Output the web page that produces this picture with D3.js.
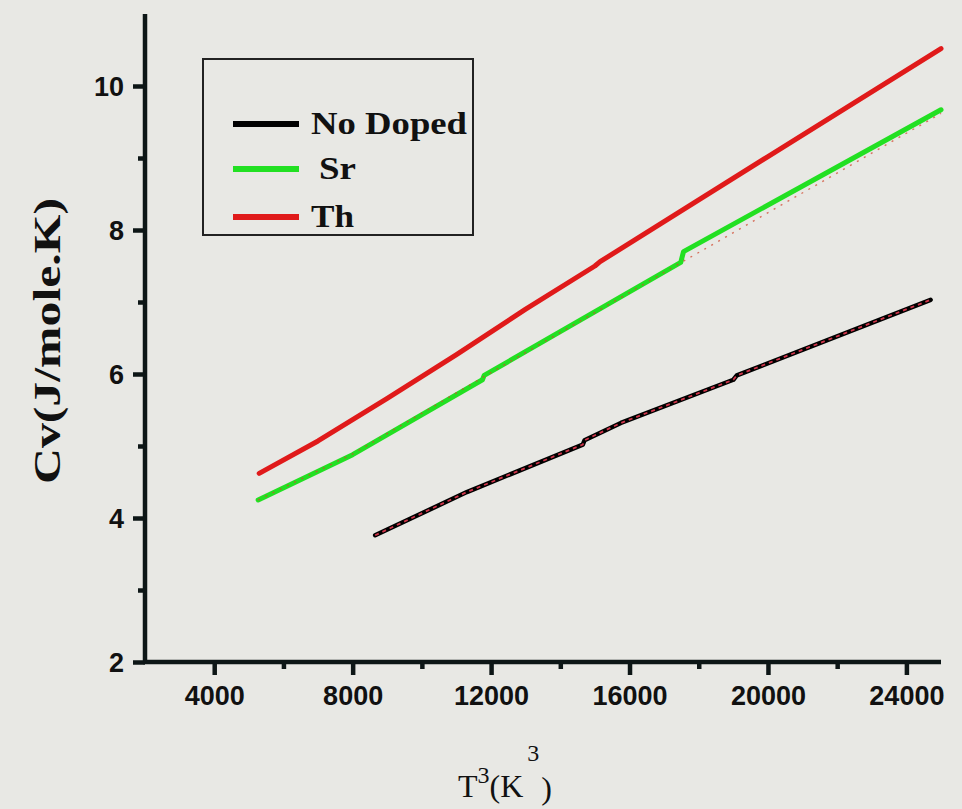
<!DOCTYPE html>
<html>
<head>
<meta charset="utf-8">
<script src="https://cdn.jsdelivr.net/npm/d3@7"></script>
<style>
  html, body { margin: 0; padding: 0; background: #e8e8e4; }
  svg { display: block; }
</style>
</head>
<body>
<svg id="chart" width="962" height="809"></svg>
<script>
// ---- data ----
const xTicks = [4000, 8000, 12000, 16000, 20000, 24000];
const xMinorTicks = [6000, 10000, 14000, 18000, 22000];
const yTicks = [2, 4, 6, 8, 10];
const yMinorTicks = [3, 5, 7, 9];

const seriesNames = ["No Doped", "Sr", "Th"];
const seriesColors = ["#000000", "#22e022", "#e01a1a"];

const noDopedT3 = [8650, 11300, 14650, 14700, 15750, 19000, 19100, 24700];
const noDopedCv = [3.76, 4.36, 5.02, 5.08, 5.32, 5.92, 5.98, 7.03];

const srT3 = [5270, 8000, 11750, 11800, 17480, 17560, 25000];
const srCv = [4.25, 4.88, 5.92, 5.98, 7.55, 7.70, 9.67];

const thT3 = [5300, 7000, 9000, 11000, 13000, 15000, 15150, 20000, 25000];
const thCv = [4.62, 5.07, 5.66, 6.27, 6.90, 7.50, 7.56, 9.02, 10.52];

// fitted curve drawn dotted along the Sr data
const srFitT3 = [5270, 8000, 11750, 17500, 25000];
const srFitCv = [4.25, 4.89, 5.95, 7.55, 9.62];

// ---- layout ----
const svg = d3.select("#chart");
const x = d3.scaleLinear().domain([2000, 25000]).range([145, 941]);
const y = d3.scaleLinear().domain([2, 11]).range([662, 14]);

const axisColor = "#0d1616";

// Y axis
const gy = svg.append("g").attr("transform", `translate(${x(2000)},0)`);
gy.call(d3.axisLeft(y).tickValues(yTicks).tickSize(12).tickPadding(9).tickFormat(d3.format("d")));
const gyMinor = svg.append("g").attr("transform", `translate(${x(2000)},0)`);
gyMinor.call(d3.axisLeft(y).tickValues(yMinorTicks).tickSize(7).tickFormat(""));

// X axis
const gx = svg.append("g").attr("transform", `translate(0,${y(2)})`);
gx.call(d3.axisBottom(x).tickValues(xTicks).tickSize(13).tickPadding(11).tickFormat(d3.format("d")));
const gxMinor = svg.append("g").attr("transform", `translate(0,${y(2)})`);
gxMinor.call(d3.axisBottom(x).tickValues(xMinorTicks).tickSize(7).tickFormat(""));

[gy, gyMinor, gx, gxMinor].forEach(g => {
  g.select(".domain").attr("stroke", axisColor).attr("stroke-width", 4.5);
  g.selectAll(".tick line").attr("stroke", axisColor).attr("stroke-width", 4.5);
  g.selectAll(".tick text")
    .attr("fill", "#111")
    .style("font-family", "'Liberation Sans', Arial, sans-serif")
    .style("font-weight", "bold")
    .style("font-size", "27px");
});
gy.select(".domain").attr("d", `M0,${y(2) + 2}V${y(11)}`);
gx.select(".domain").attr("d", `M${x(2000) - 2},0H${x(25000)}`);
gyMinor.select(".domain").remove();
gxMinor.select(".domain").remove();
gy.selectAll(".tick text").attr("dy", "0.36em");

// ---- lines ----
const line = d3.line().x(d => x(d[0])).y(d => y(d[1]));
const zip = (a, b) => a.map((v, i) => [v, b[i]]);

const series = [
  { pts: zip(noDopedT3, noDopedCv), color: seriesColors[0], w: 4.5 },
  { pts: zip(srT3, srCv), color: seriesColors[1], w: 5 },
  { pts: zip(thT3, thCv), color: seriesColors[2], w: 5 }
];

series.forEach(s => {
  svg.append("path")
    .attr("d", line(s.pts))
    .attr("fill", "none")
    .attr("stroke", s.color)
    .attr("stroke-width", s.w)
    .attr("stroke-linejoin", "round")
    .attr("stroke-linecap", "round");
});

// red dashed fit overlay on No Doped
svg.append("path")
  .attr("d", line(series[0].pts))
  .attr("fill", "none")
  .attr("stroke", "#d0354a")
  .attr("stroke-width", 1.8)
  .attr("stroke-dasharray", "4,4");

// dotted fit line on Sr
svg.append("path")
  .attr("d", line(zip(srFitT3, srFitCv)))
  .attr("fill", "none")
  .attr("stroke", "#d04a30")
  .attr("stroke-width", 1.4)
  .attr("stroke-opacity", 0.75)
  .attr("stroke-dasharray", "2,6");

// ---- legend ----
const serif = "'Times New Roman', 'Liberation Serif', serif";
const lg = svg.append("g");
lg.append("rect")
  .attr("x", 203).attr("y", 59).attr("width", 270).attr("height", 176)
  .attr("fill", "none").attr("stroke", "#222").attr("stroke-width", 2);

const legY = [124, 169, 217];
const legTextX = [311, 319, 311];
const legTextLen = [156, 37, 43];
seriesNames.forEach((name, i) => {
  lg.append("line")
    .attr("x1", 233).attr("x2", 299)
    .attr("y1", legY[i]).attr("y2", legY[i])
    .attr("stroke", seriesColors[i]).attr("stroke-width", 6);
  lg.append("text")
    .attr("x", legTextX[i]).attr("y", legY[i] + 10)
    .attr("textLength", legTextLen[i])
    .attr("lengthAdjust", "spacingAndGlyphs")
    .style("font-family", serif)
    .style("font-weight", "bold")
    .style("font-size", "31px")
    .attr("fill", "#111")
    .text(name);
});

// ---- axis titles ----
svg.append("text")
  .attr("transform", `translate(60,341) rotate(-90)`)
  .attr("text-anchor", "middle")
  .attr("textLength", 286)
  .attr("lengthAdjust", "spacingAndGlyphs")
  .style("font-family", serif)
  .style("font-weight", "bold")
  .style("font-size", "38px")
  .attr("fill", "#111")
  .text("Cv(J/mole.K)");

const xt = svg.append("text")
  .attr("x", 458).attr("y", 797)
  .style("font-family", serif)
  .style("font-size", "32px")
  .attr("fill", "#111");
xt.append("tspan").text("T");
xt.append("tspan").attr("dy", -14).style("font-size", "24px").text("3");
xt.append("tspan").attr("dy", 14).text("(K");
xt.append("tspan").attr("dx", 4).attr("dy", -36).style("font-size", "24px").text("3");
xt.append("tspan").attr("dx", 2).attr("dy", 38).text(")");
</script>
</body>
</html>
